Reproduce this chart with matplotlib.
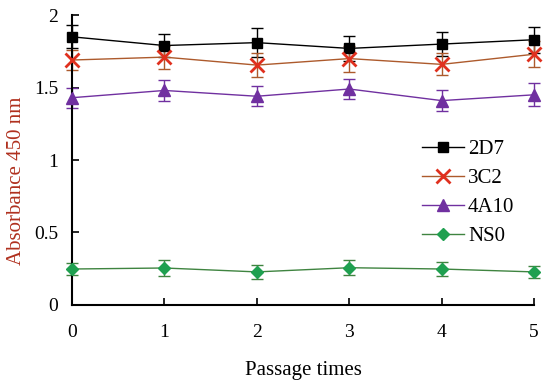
import matplotlib.pyplot as plt
from matplotlib import rcParams

rcParams["font.family"] = ["Liberation Serif", "DejaVu Serif"]

passages = [0, 1, 2, 3, 4, 5]

# absorbance at 450 nm for each clone, with error bars
a_2d7 = [1.85, 1.79, 1.81, 1.77, 1.80, 1.83]
e_2d7 = [0.08, 0.08, 0.10, 0.085, 0.08, 0.09]
a_3c2 = [1.69, 1.71, 1.655, 1.70, 1.66, 1.73]
e_3c2 = [0.07, 0.08, 0.085, 0.09, 0.075, 0.09]
a_4a10 = [1.43, 1.48, 1.44, 1.49, 1.41, 1.45]
e_4a10 = [0.07, 0.07, 0.07, 0.07, 0.07, 0.08]
a_ns0 = [0.248, 0.255, 0.228, 0.257, 0.248, 0.228]
e_ns0 = [0.04, 0.055, 0.05, 0.05, 0.05, 0.04]

yticks = [0, 0.5, 1, 1.5, 2]
ytick_labels = ["0", "0.5", "1", "1.5", "2"]

fig = plt.figure(figsize=(5.5, 3.87), dpi=100)
ax = fig.add_axes([0.131, 0.212, 0.84, 0.749])

series = [
    ("2D7", a_2d7, e_2d7, "black", "black", "s", 7),
    ("3C2", a_3c2, e_3c2, "#ad5a2c", "#e0301e", "x", 10),
    ("4A10", a_4a10, e_4a10, "#7030a0", "#7030a0", "^", 8),
    ("NS0", a_ns0, e_ns0, "#3f8440", "#1fa050", "D", 6),
]
for name, vals, errs, lc, mc, mk, ms in series:
    ax.errorbar(passages, vals, yerr=errs, fmt="none", ecolor=lc,
                elinewidth=1.0, capsize=4, capthick=1.0, clip_on=False, zorder=2)
    ax.plot(passages, vals, color=lc, lw=1.0, marker=mk, markersize=ms,
            markerfacecolor=mc, markeredgecolor=mc,
            markeredgewidth=2 if mk == "x" else 1,
            label=name, clip_on=False, zorder=3)

ax.set_xlim(0, 5)
ax.set_ylim(0, 2)
ax.set_xticks(passages)
ax.set_yticks(yticks)
ax.set_yticklabels(ytick_labels)
ax.tick_params(direction="in", length=5, width=1.2, labelsize=14)
ax.tick_params(axis="x", pad=14)
ax.tick_params(axis="y", pad=10)
for s in ["top", "right"]:
    ax.spines[s].set_visible(False)
for s in ["left", "bottom"]:
    ax.spines[s].set_linewidth(1.5)

ax.set_xlabel("Passage times", fontsize=15, labelpad=14)
ax.set_ylabel("Absorbance 450 nm", fontsize=15, color="#b0301e")
ax.yaxis.set_label_coords(-0.100, 0.43)

ax.legend(loc="upper left", bbox_to_anchor=(0.74, 0.60), frameon=False,
          fontsize=15, handlelength=2.0, labelspacing=0.45, handletextpad=0.2,
          borderaxespad=0)

fig.savefig("out.png", dpi=100)
